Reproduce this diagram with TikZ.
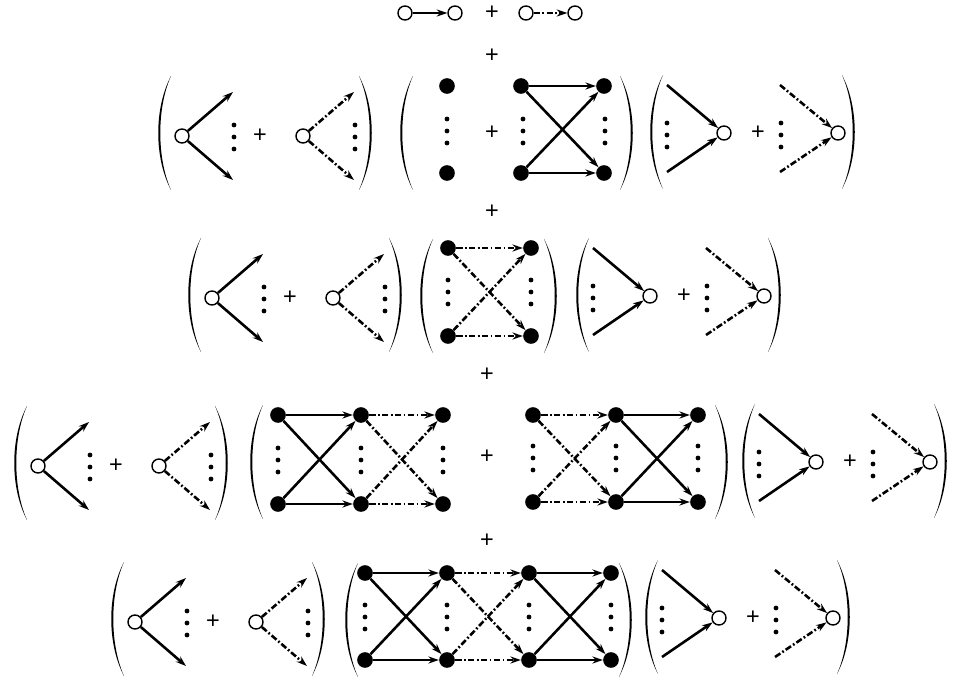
\documentclass[tikz,border=0pt]{standalone}
\usepackage{fontspec}
\newfontfamily\plusfont{Liberation Sans}
\usetikzlibrary{arrows.meta}
\begin{document}
\begin{tikzpicture}[x=0.03cm, y=-0.03cm,
    oc/.style={circle, draw, line width=1.2pt, minimum size=0.42cm, inner sep=0pt},
    fc/.style={circle, fill, minimum size=0.47cm, inner sep=0pt},
    sa/.style={line width=2.2pt, -{Stealth[length=9pt, width=6pt]}},
    da/.style={sa, dash pattern=on 5.5pt off 2pt on 1.5pt off 2pt},
    pl/.style={font=\plusfont\fontsize{20}{24}\selectfont, inner sep=0pt},
    lpar/.pic={\fill (13,-57) .. controls (-4,-25) and (-4,25) .. (13,57) .. controls (-1.3,25) and (-1.3,-25) .. (13,-57);},
    rpar/.pic={\fill (-13,-57) .. controls (4,-25) and (4,25) .. (-13,57) .. controls (1.3,25) and (1.3,-25) .. (-13,-57);},
    vd/.pic={\foreach \d in {-12,0,12} \fill (0,\d) circle (2.4);},
    src/.pic={
        \pic at (-24,-3) {lpar};
        \node[oc] (-v) at (0,0) {};
        \coordinate (-a1) at (51,-44);
        \coordinate (-a2) at (51,44);
        \draw[sa] (-v) -- (-a1);
        \draw[sa] (-v) -- (-a2);
        \pic at (52,1) {vd};
        \node[pl] (-p) at (78,0) {+};
        \node[oc] (-w) at (121,0) {};
        \coordinate (-b1) at (172,-44);
        \coordinate (-b2) at (172,44);
        \draw[da] (-w) -- (-b1);
        \draw[da] (-w) -- (-b2);
        \pic at (173,1) {vd};
        \pic at (190,-3) {rpar};
    },
    snk/.pic={
        \pic at (-74,-1) {lpar};
        \coordinate (-a1) at (-57,-48);
        \coordinate (-a2) at (-57,39);
        \node[oc] (-v) at (0,0) {};
        \draw[sa] (-a1) -- (-v);
        \draw[sa] (-a2) -- (-v);
        \pic at (-57,2) {vd};
        \node[pl] (-p) at (34,0) {+};
        \coordinate (-b1) at (56,-48);
        \coordinate (-b2) at (56,39);
        \node[oc] (-w) at (114,0) {};
        \draw[da] (-b1) -- (-w);
        \draw[da] (-b2) -- (-w);
        \pic at (57,2) {vd};
        \pic at (131,-1) {rpar};
    }
]
    \useasboundingbox (0,0) rectangle (953,684);

    %% Top: the two edge types
    \node[oc] (e1) at (405,13) {};
    \node[oc] (e2) at (455,13) {};
    \draw[sa] (e1) -- (e2);
    \node[pl] (t0) at (492,13) {+};
    \node[oc] (e3) at (526,13) {};
    \node[oc] (e4) at (575,13) {};
    \draw[da] (e3) -- (e4);

    % Pluses between the rows
    \node[pl] (t1) at (492,56) {+};
    \node[pl] (t2) at (492,212) {+};
    \node[pl] (t3) at (487,375) {+};
    \node[pl] (t4) at (487,541) {+};

    %% Row 1
    \pic (s1) at (182,136) {src};
    \pic at (400,133) {lpar};
    \node[fc] (a1t) at (447,86) {};
    \node[fc] (a1b) at (447,173) {};
    \pic at (447,131) {vd};
    \node[pl] (r1p) at (492,133) {+};
    \node[fc] (b1t) at (521,86) {};
    \node[fc] (b1b) at (521,173) {};
    \node[fc] (b2t) at (604,86) {};
    \node[fc] (b2b) at (604,173) {};
    \pic at (523,131) {vd};
    \pic at (605,131) {vd};
    \foreach \p in {t,b} \foreach \q in {t,b} \draw[sa] (b1\p) -- (b2\q);
    \pic at (633,133) {rpar};
    \pic (k1) at (724,133) {snk};

    %% Row 2
    \pic (s2) at (212,298) {src};
    \pic at (420,296) {lpar};
    \node[fc] (c1t) at (448,248) {};
    \node[fc] (c1b) at (448,336) {};
    \node[fc] (c2t) at (531,248) {};
    \node[fc] (c2b) at (531,336) {};
    \pic at (448,292) {vd};
    \pic at (531,292) {vd};
    \foreach \p in {t,b} \foreach \q in {t,b} \draw[da] (c1\p) -- (c2\q);
    \pic at (557,296) {rpar};
    \pic (k2) at (650,296) {snk};

    %% Row 3
    \pic (s3) at (38,466) {src};
    \pic at (250,462) {lpar};
    \foreach \i/\x in {1/278,2/361,3/443} {
        \node[fc] (f\i t) at (\x,415) {};
        \node[fc] (f\i b) at (\x,504) {};
        \pic at (\x,460) {vd};
    }
    \foreach \p in {t,b} \foreach \q in {t,b} {
        \draw[sa] (f1\p) -- (f2\q);
        \draw[da] (f2\p) -- (f3\q);
    }
    \node[pl] (r3p) at (487,457) {+};
    \foreach \i/\x in {1/533,2/616,3/698} {
        \node[fc] (g\i t) at (\x,415) {};
        \node[fc] (g\i b) at (\x,502) {};
        \pic at (\x,458) {vd};
    }
    \foreach \p in {t,b} \foreach \q in {t,b} {
        \draw[da] (g1\p) -- (g2\q);
        \draw[sa] (g2\p) -- (g3\q);
    }
    \pic at (728,462) {rpar};
    \pic (k3) at (816,462) {snk};

    %% Row 4
    \pic (s4) at (135,622) {src};
    \pic at (345,620) {lpar};
    \foreach \i/\x in {1/365,2/447,3/529,4/611} {
        \node[fc] (h\i t) at (\x,573) {};
        \node[fc] (h\i b) at (\x,660) {};
        \pic at (\x,617) {vd};
    }
    \foreach \p in {t,b} \foreach \q in {t,b} {
        \draw[sa] (h1\p) -- (h2\q);
        \draw[da] (h2\p) -- (h3\q);
        \draw[sa] (h3\p) -- (h4\q);
    }
    \pic at (632,620) {rpar};
    \pic (k4) at (719,618) {snk};

\end{tikzpicture}
\end{document}
